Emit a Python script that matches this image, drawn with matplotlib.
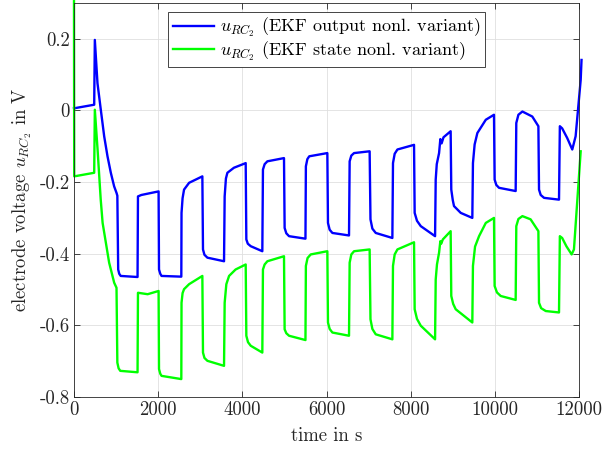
import matplotlib
matplotlib.use("Agg")
import matplotlib.pyplot as plt

# time (s) and voltage (V)
t_output = [0, 480, 495, 558, 637, 717, 796, 875, 954, 1010, 1030, 1050, 1075, 1110, 1510,
            1520, 1600, 2010, 2020, 2050, 2080, 2550,
            2555, 2580, 2615, 2735, 3050, 3065, 3100, 3170, 3565,
            3580, 3610, 3645, 3800, 4080, 4095, 4130, 4200, 4475,
            4490, 4530, 4595, 4990, 5005, 5045, 5110, 5500,
            5510, 5545, 5590, 6020, 6035, 6075, 6140, 6535,
            6550, 6590, 6655, 7025, 7045, 7090, 7170, 7565,
            7580, 7620, 7685, 8080, 8095, 8150, 8240, 8580,
            8595, 8620, 8675, 8705, 8735, 8780, 8950, 8965, 9000, 9030, 9190, 9465,
            9480, 9520, 9585, 9785, 9980, 9995, 10035, 10100, 10495,
            10510, 10560, 10655, 10890, 11035, 11050, 11090, 11170, 11525,
            11545, 11600, 11720, 11840, 11920, 12040, 12060]
u_output = [0.006, 0.016, 0.197, 0.076, 0.002, -0.072, -0.128, -0.174, -0.212, -0.230, -0.238, -0.444, -0.456, -0.462, -0.465,
            -0.240, -0.236, -0.226, -0.444, -0.456, -0.462, -0.464,
            -0.286, -0.245, -0.221, -0.202, -0.184, -0.388, -0.403, -0.411, -0.421,
            -0.240, -0.190, -0.174, -0.160, -0.147, -0.360, -0.372, -0.379, -0.393,
            -0.165, -0.150, -0.142, -0.133, -0.328, -0.343, -0.351, -0.358,
            -0.156, -0.136, -0.128, -0.119, -0.314, -0.333, -0.342, -0.349,
            -0.142, -0.126, -0.119, -0.114, -0.304, -0.330, -0.342, -0.356,
            -0.147, -0.121, -0.109, -0.096, -0.286, -0.308, -0.323, -0.351,
            -0.193, -0.150, -0.119, -0.080, -0.092, -0.075, -0.058, -0.221, -0.250, -0.267, -0.286, -0.300,
            -0.147, -0.095, -0.063, -0.026, -0.012, -0.193, -0.208, -0.216, -0.225,
            -0.035, -0.012, -0.003, -0.017, -0.044, -0.221, -0.236, -0.244, -0.249,
            -0.044, -0.050, -0.077, -0.109, -0.072, 0.085, 0.141]

t_state = [0, 5, 480, 495, 560, 635, 680, 835, 955, 1010, 1030, 1060, 1100, 1510,
           1520, 1750, 2010, 2020, 2050, 2080, 2550,
           2555, 2580, 2615, 2735, 3050, 3065, 3100, 3170, 3565,
           3580, 3620, 3685, 3840, 4080, 4095, 4135, 4200, 4475,
           4490, 4530, 4595, 4990, 5005, 5045, 5110, 5500,
           5510, 5550, 5625, 6020, 6035, 6075, 6140, 6535,
           6550, 6590, 6655, 7025, 7045, 7090, 7170, 7565,
           7580, 7620, 7685, 8080, 8095, 8150, 8240, 8580,
           8595, 8625, 8675, 8705, 8725, 8765, 8950, 8965, 9010, 9070, 9465,
           9480, 9530, 9625, 9785, 9980, 9995, 10050, 10140, 10495,
           10510, 10560, 10655, 10850, 11035, 11050, 11100, 11210, 11525,
           11545, 11600, 11700, 11825, 11880, 12040]
u_state = [0.305, -0.184, -0.174, 0.002, -0.109, -0.249, -0.314, -0.425, -0.481, -0.495, -0.704, -0.720, -0.727, -0.731,
           -0.509, -0.513, -0.504, -0.722, -0.735, -0.741, -0.750,
           -0.537, -0.510, -0.499, -0.485, -0.462, -0.676, -0.691, -0.699, -0.713,
           -0.537, -0.485, -0.462, -0.444, -0.430, -0.629, -0.647, -0.657, -0.676,
           -0.444, -0.430, -0.421, -0.407, -0.611, -0.622, -0.629, -0.641,
           -0.434, -0.412, -0.402, -0.393, -0.592, -0.610, -0.620, -0.629,
           -0.425, -0.402, -0.393, -0.388, -0.583, -0.610, -0.625, -0.639,
           -0.434, -0.402, -0.388, -0.368, -0.555, -0.582, -0.601, -0.639,
           -0.472, -0.430, -0.397, -0.365, -0.372, -0.360, -0.337, -0.518, -0.540, -0.555, -0.592,
           -0.434, -0.380, -0.351, -0.314, -0.300, -0.490, -0.508, -0.518, -0.529,
           -0.323, -0.303, -0.295, -0.304, -0.337, -0.537, -0.552, -0.560, -0.564,
           -0.351, -0.356, -0.379, -0.402, -0.388, -0.114]

x_ticks = [0, 2000, 4000, 6000, 8000, 10000, 12000]
y_ticks = [-0.8, -0.6, -0.4, -0.2, 0, 0.2]
y_tick_labels = ['-0.8', '-0.6', '-0.4', '-0.2', '0', '0.2']

plt.rcParams['font.family'] = 'cmr10'
plt.rcParams['mathtext.fontset'] = 'cm'
plt.rcParams['axes.unicode_minus'] = False
plt.rcParams['font.size'] = 13.5

fig = plt.figure(figsize=(6.05, 4.54), dpi=100)
ax = fig.add_axes([74 / 605, 57 / 454, 505 / 605, 394 / 454])

ax.plot(t_output, u_output, color=(0, 0, 1), lw=1.7, clip_on=False,
        label=r'$u_{RC_2}$ (EKF output nonl. variant)')
ax.plot(t_state, u_state, color=(0, 1, 0), lw=1.7, clip_on=False,
        label=r'$u_{RC_2}$ (EKF state nonl. variant)')

ax.set_xlim(0, 12000)
ax.set_ylim(-0.8, 0.3)
ax.set_xticks(x_ticks)
ax.set_xticklabels([str(v) for v in x_ticks])
ax.set_yticks(y_ticks)
ax.set_yticklabels(y_tick_labels)
ax.tick_params(direction='in', top=True, right=True, length=4, width=0.6,
               colors='#262626', labelcolor='#262626', pad=3)
for s in ax.spines.values():
    s.set_color('#262626')
    s.set_linewidth(0.6)
ax.grid(True, color='#dfdfdf', lw=0.6)
ax.set_axisbelow(True)

ax.set_xlabel('time in s', color='#262626', labelpad=6)
ax.set_ylabel(r'electrode voltage $u_{RC_2}$ in V', color='#262626', labelpad=4)

leg = ax.legend(loc='upper center', bbox_to_anchor=(0.5, 0.978), borderaxespad=0,
                fancybox=False, edgecolor='#262626', framealpha=1, handlelength=2.3,
                handletextpad=0.3, borderpad=0.25, labelspacing=0.0, fontsize=13)
leg.get_frame().set_linewidth(0.6)

fig.savefig('out.png', dpi=100)
